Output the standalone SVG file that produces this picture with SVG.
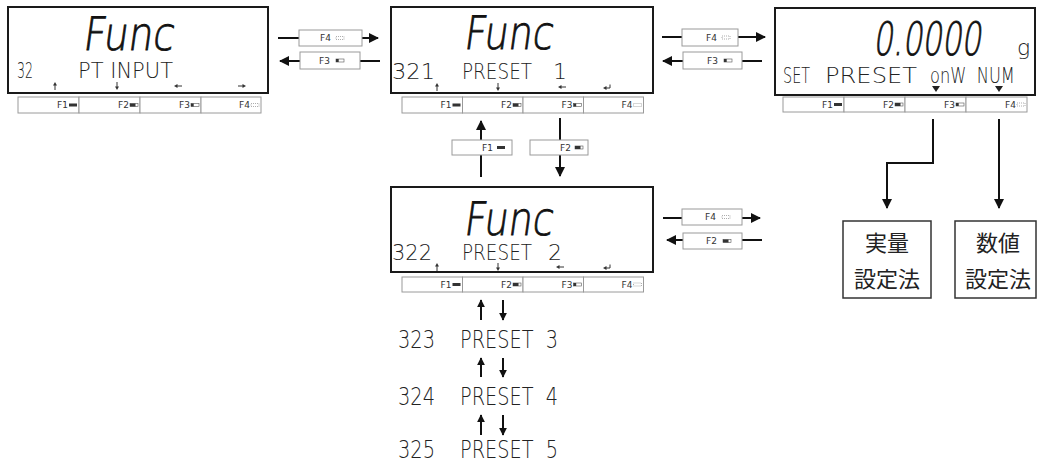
<svg xmlns="http://www.w3.org/2000/svg" width="1038" height="463" viewBox="0 0 1038 463">
<style>
.lcd{fill:#fff;stroke:#1a1a1a;stroke-width:2}
.key{fill:#fff;stroke:#9a9a9a;stroke-width:1}
.kt{font-family:"DejaVu Sans",sans-serif;font-size:9px;fill:#333;text-anchor:end}
.big{font-family:"DejaVu Sans",sans-serif;font-size:46px;font-weight:300;fill:#111;stroke:#111;stroke-width:0.8}
.sub{font-family:"DejaVu Sans",sans-serif;font-size:22px;font-weight:300;fill:#222}
.list{font-family:"DejaVu Sans",sans-serif;font-size:25px;font-weight:300;fill:#222}
.c{stroke:#111;stroke-width:2;fill:none}
.jp{fill:#fff;stroke:#333;stroke-width:1.5}
.jt{font-family:"Noto Sans CJK JP",sans-serif;font-size:22px;fill:#222;text-anchor:middle}
</style>
<defs>
<marker id="ah" viewBox="0 0 10 10" refX="9" refY="5" markerWidth="11" markerHeight="10" markerUnits="userSpaceOnUse" orient="auto"><path d="M0,0 L10,5 L0,10 Z" fill="#111"/></marker>
<marker id="as" viewBox="0 0 10 10" refX="9" refY="5" markerWidth="8" markerHeight="8" markerUnits="userSpaceOnUse" orient="auto"><path d="M0,0 L10,5 L0,10 Z" fill="#111"/></marker>
<g id="i1"><rect x="0" y="0" width="8" height="3" fill="#333"/></g>
<g id="i2"><rect x="0" y="0" width="8" height="3" fill="#fff" stroke="#555" stroke-width="0.6"/><rect x="0" y="0" width="5.5" height="3" fill="#333"/></g>
<g id="i3"><rect x="0" y="0" width="8" height="3" fill="#fff" stroke="#555" stroke-width="0.6"/><rect x="0" y="0" width="2.7" height="3" fill="#333"/></g>
<g id="i4"><rect x="0" y="0" width="8" height="3" fill="#fff" stroke="#777" stroke-width="0.6" stroke-dasharray="1,1"/></g>
<g id="au"><path d="M0,4 V-1" stroke="#333" stroke-width="1"/><path d="M-2,-0.5 L0,-4 L2,-0.5 Z" fill="#333"/></g>
<g id="ar"><path d="M3,-2.5 V1 H-1" stroke="#333" stroke-width="1" fill="none"/><path d="M-0.5,-1 L-4,1 L-0.5,3 Z" fill="#333"/></g>
</defs>

<!-- Display 1 -->
<g id="display1">
<rect class="lcd" x="8" y="7" width="260" height="86"/>
<text class="big" transform="translate(82,50) skewX(-8)" textLength="91" lengthAdjust="spacingAndGlyphs">Func</text>
<text class="sub" y="78"><tspan x="17" textLength="16" lengthAdjust="spacingAndGlyphs">32</tspan><tspan x="78" textLength="95" lengthAdjust="spacingAndGlyphs">PT INPUT</tspan></text>
<use href="#au" transform="translate(55,86)"/>
<use href="#au" transform="translate(117,86) rotate(180)"/>
<use href="#au" transform="translate(178,86) rotate(-90)"/>
<use href="#au" transform="translate(242,86) rotate(90)"/>
<rect class="key" x="18" y="97" width="61" height="16"/><text class="kt" x="68" y="108">F1</text><use href="#i1" x="69" y="103.5"/>
<rect class="key" x="79" y="97" width="61" height="16"/><text class="kt" x="129" y="108">F2</text><use href="#i2" x="130" y="103.5"/>
<rect class="key" x="140" y="97" width="61" height="16"/><text class="kt" x="190" y="108">F3</text><use href="#i3" x="191" y="103.5"/>
<rect class="key" x="201" y="97" width="60" height="16"/><text class="kt" x="250" y="108">F4</text><use href="#i4" x="251" y="103.5"/>
</g>

<!-- Display 2 -->
<g id="display2">
<rect class="lcd" x="391" y="7" width="262" height="86"/>
<text class="big" transform="translate(463,49) skewX(-8)" textLength="89" lengthAdjust="spacingAndGlyphs">Func</text>
<text class="sub" y="79"><tspan x="392" textLength="43" lengthAdjust="spacingAndGlyphs">321</tspan><tspan x="462" textLength="70" lengthAdjust="spacingAndGlyphs">PRESET</tspan><tspan x="553">1</tspan></text>
<use href="#au" transform="translate(437,87)"/>
<use href="#au" transform="translate(498,87) rotate(180)"/>
<use href="#au" transform="translate(562,87) rotate(-90)"/>
<use href="#ar" transform="translate(607,87)"/>
<rect class="key" x="402" y="97" width="60.5" height="16"/><text class="kt" x="451.5" y="108">F1</text><use href="#i1" x="452.5" y="103.5"/>
<rect class="key" x="462.5" y="97" width="60.5" height="16"/><text class="kt" x="512" y="108">F2</text><use href="#i2" x="513" y="103.5"/>
<rect class="key" x="523" y="97" width="60.5" height="16"/><text class="kt" x="572.5" y="108">F3</text><use href="#i3" x="573.5" y="103.5"/>
<rect class="key" x="583.5" y="97" width="60" height="16"/><text class="kt" x="632.5" y="108">F4</text><use href="#i4" x="633.5" y="103.5"/>
</g>

<!-- Display 3 -->
<g id="display3">
<rect class="lcd" x="775" y="8" width="260" height="87"/>
<text class="big" transform="translate(873,55) skewX(-8)" font-size="50" textLength="108" lengthAdjust="spacingAndGlyphs">0.0000</text>
<text class="sub" x="1017" y="55" font-size="16">g</text>
<text class="sub" y="83" font-size="23"><tspan x="783" textLength="27" lengthAdjust="spacingAndGlyphs">SET</tspan><tspan x="825" textLength="92" lengthAdjust="spacingAndGlyphs">PRESET</tspan></text>
<text class="sub" transform="translate(930,83) scale(0.74,1)" font-size="23">onW&#160; NUM</text>
<path d="M932,86 L940,86 L936,92 Z" fill="#222"/>
<path d="M995,86 L1003,86 L999,92 Z" fill="#222"/>
<rect class="key" x="783" y="97" width="61" height="15"/><text class="kt" x="833" y="108">F1</text><use href="#i1" x="834" y="103"/>
<rect class="key" x="844" y="97" width="61" height="15"/><text class="kt" x="894" y="108">F2</text><use href="#i2" x="895" y="103"/>
<rect class="key" x="905" y="97" width="61" height="15"/><text class="kt" x="955" y="108">F3</text><use href="#i3" x="956" y="103"/>
<rect class="key" x="966" y="97" width="61" height="15"/><text class="kt" x="1016" y="108">F4</text><use href="#i4" x="1017" y="103"/>
</g>

<!-- Display 4 -->
<g id="display4">
<rect class="lcd" x="391" y="187" width="262" height="85"/>
<text class="big" transform="translate(463,235) skewX(-8)" textLength="89" lengthAdjust="spacingAndGlyphs">Func</text>
<text class="sub" y="260"><tspan x="392" textLength="40" lengthAdjust="spacingAndGlyphs">322</tspan><tspan x="462" textLength="70" lengthAdjust="spacingAndGlyphs">PRESET</tspan><tspan x="548" textLength="14" lengthAdjust="spacingAndGlyphs">2</tspan></text>
<use href="#au" transform="translate(437,267)"/>
<use href="#au" transform="translate(498,267) rotate(180)"/>
<use href="#au" transform="translate(560,267) rotate(-90)"/>
<use href="#ar" transform="translate(607,267)"/>
<rect class="key" x="402" y="277" width="60.5" height="15"/><text class="kt" x="451.5" y="288">F1</text><use href="#i1" x="452.5" y="283"/>
<rect class="key" x="462.5" y="277" width="60.5" height="15"/><text class="kt" x="512" y="288">F2</text><use href="#i2" x="513" y="283"/>
<rect class="key" x="523" y="277" width="60.5" height="15"/><text class="kt" x="572.5" y="288">F3</text><use href="#i3" x="573.5" y="283"/>
<rect class="key" x="583.5" y="277" width="60" height="15"/><text class="kt" x="632.5" y="288">F4</text><use href="#i4" x="633.5" y="283"/>
</g>

<!-- Method boxes -->
<g id="box-actual">
<rect class="jp" x="843" y="221" width="88" height="77"/>
<text class="jt" x="887" y="251">実量</text>
<text class="jt" x="887" y="287">設定法</text>
</g>
<g id="box-numeric">
<rect class="jp" x="955" y="221" width="81" height="77"/>
<text class="jt" x="998" y="251">数値</text>
<text class="jt" x="998" y="287">設定法</text>
</g>

<!-- Preset list -->
<g id="preset3"><text class="list" y="348"><tspan x="398" textLength="37" lengthAdjust="spacingAndGlyphs">323</tspan><tspan x="460" textLength="98" lengthAdjust="spacingAndGlyphs">PRESET&#160; 3</tspan></text></g>
<g id="preset4"><text class="list" y="405"><tspan x="398" textLength="37" lengthAdjust="spacingAndGlyphs">324</tspan><tspan x="460" textLength="98" lengthAdjust="spacingAndGlyphs">PRESET&#160; 4</tspan></text></g>
<g id="preset5"><text class="list" y="458"><tspan x="398" textLength="37" lengthAdjust="spacingAndGlyphs">325</tspan><tspan x="460" textLength="98" lengthAdjust="spacingAndGlyphs">PRESET&#160; 5</tspan></text></g>

<!-- Connectors -->
<g id="connectors">
<line class="c" x1="278" y1="38" x2="378" y2="38" marker-end="url(#ah)"/>
<line class="c" x1="380" y1="61" x2="280" y2="61" marker-end="url(#ah)"/>
<line class="c" x1="662" y1="37" x2="765" y2="37" marker-end="url(#ah)"/>
<line class="c" x1="762" y1="61" x2="663" y2="61" marker-end="url(#ah)"/>
<line class="c" x1="481" y1="177" x2="481" y2="121" marker-end="url(#ah)"/>
<line class="c" x1="560" y1="118" x2="560" y2="176" marker-end="url(#ah)"/>
<line class="c" x1="663" y1="218" x2="760" y2="218" marker-end="url(#ah)"/>
<line class="c" x1="762" y1="240" x2="667" y2="240" marker-end="url(#ah)"/>
<path class="c" d="M933,119 V163 H887 V208" marker-end="url(#ah)"/>
<line class="c" x1="999" y1="119" x2="999" y2="208" marker-end="url(#ah)"/>
<line class="c" x1="481" y1="320" x2="481" y2="300" marker-end="url(#as)"/>
<line class="c" x1="503" y1="300" x2="503" y2="320" marker-end="url(#as)"/>
<line class="c" x1="481" y1="377" x2="481" y2="358" marker-end="url(#as)"/>
<line class="c" x1="503" y1="358" x2="503" y2="377" marker-end="url(#as)"/>
<line class="c" x1="481" y1="435" x2="481" y2="415" marker-end="url(#as)"/>
<line class="c" x1="503" y1="415" x2="503" y2="435" marker-end="url(#as)"/>
<g id="k-d1d2-f4"><rect class="key" x="299" y="30" width="63" height="16"/><text class="kt" x="331" y="41">F4</text><use href="#i4" x="336" y="36.5"/></g>
<g id="k-d2d1-f3"><rect class="key" x="300" y="52" width="60" height="17"/><text class="kt" x="330" y="64">F3</text><use href="#i3" x="336" y="59"/></g>
<g id="k-d2d3-f4"><rect class="key" x="682" y="29" width="56" height="17"/><text class="kt" x="717" y="41">F4</text><use href="#i4" x="722" y="36"/></g>
<g id="k-d3d2-f3"><rect class="key" x="683" y="52" width="59" height="17"/><text class="kt" x="718" y="64">F3</text><use href="#i3" x="724" y="59"/></g>
<g id="k-up-f1"><rect class="key" x="452" y="140" width="60" height="15"/><text class="kt" x="493" y="151">F1</text><use href="#i1" x="497" y="146"/></g>
<g id="k-down-f2"><rect class="key" x="530" y="140" width="58" height="15"/><text class="kt" x="571" y="151">F2</text><use href="#i2" x="575" y="146"/></g>
<g id="k-d4-f4"><rect class="key" x="682" y="209" width="60" height="16"/><text class="kt" x="716" y="220">F4</text><use href="#i4" x="722" y="215.5"/></g>
<g id="k-d4-f2"><rect class="key" x="683" y="233" width="59" height="16"/><text class="kt" x="717" y="244">F2</text><use href="#i2" x="723" y="239.5"/></g>
</g>
</svg>
